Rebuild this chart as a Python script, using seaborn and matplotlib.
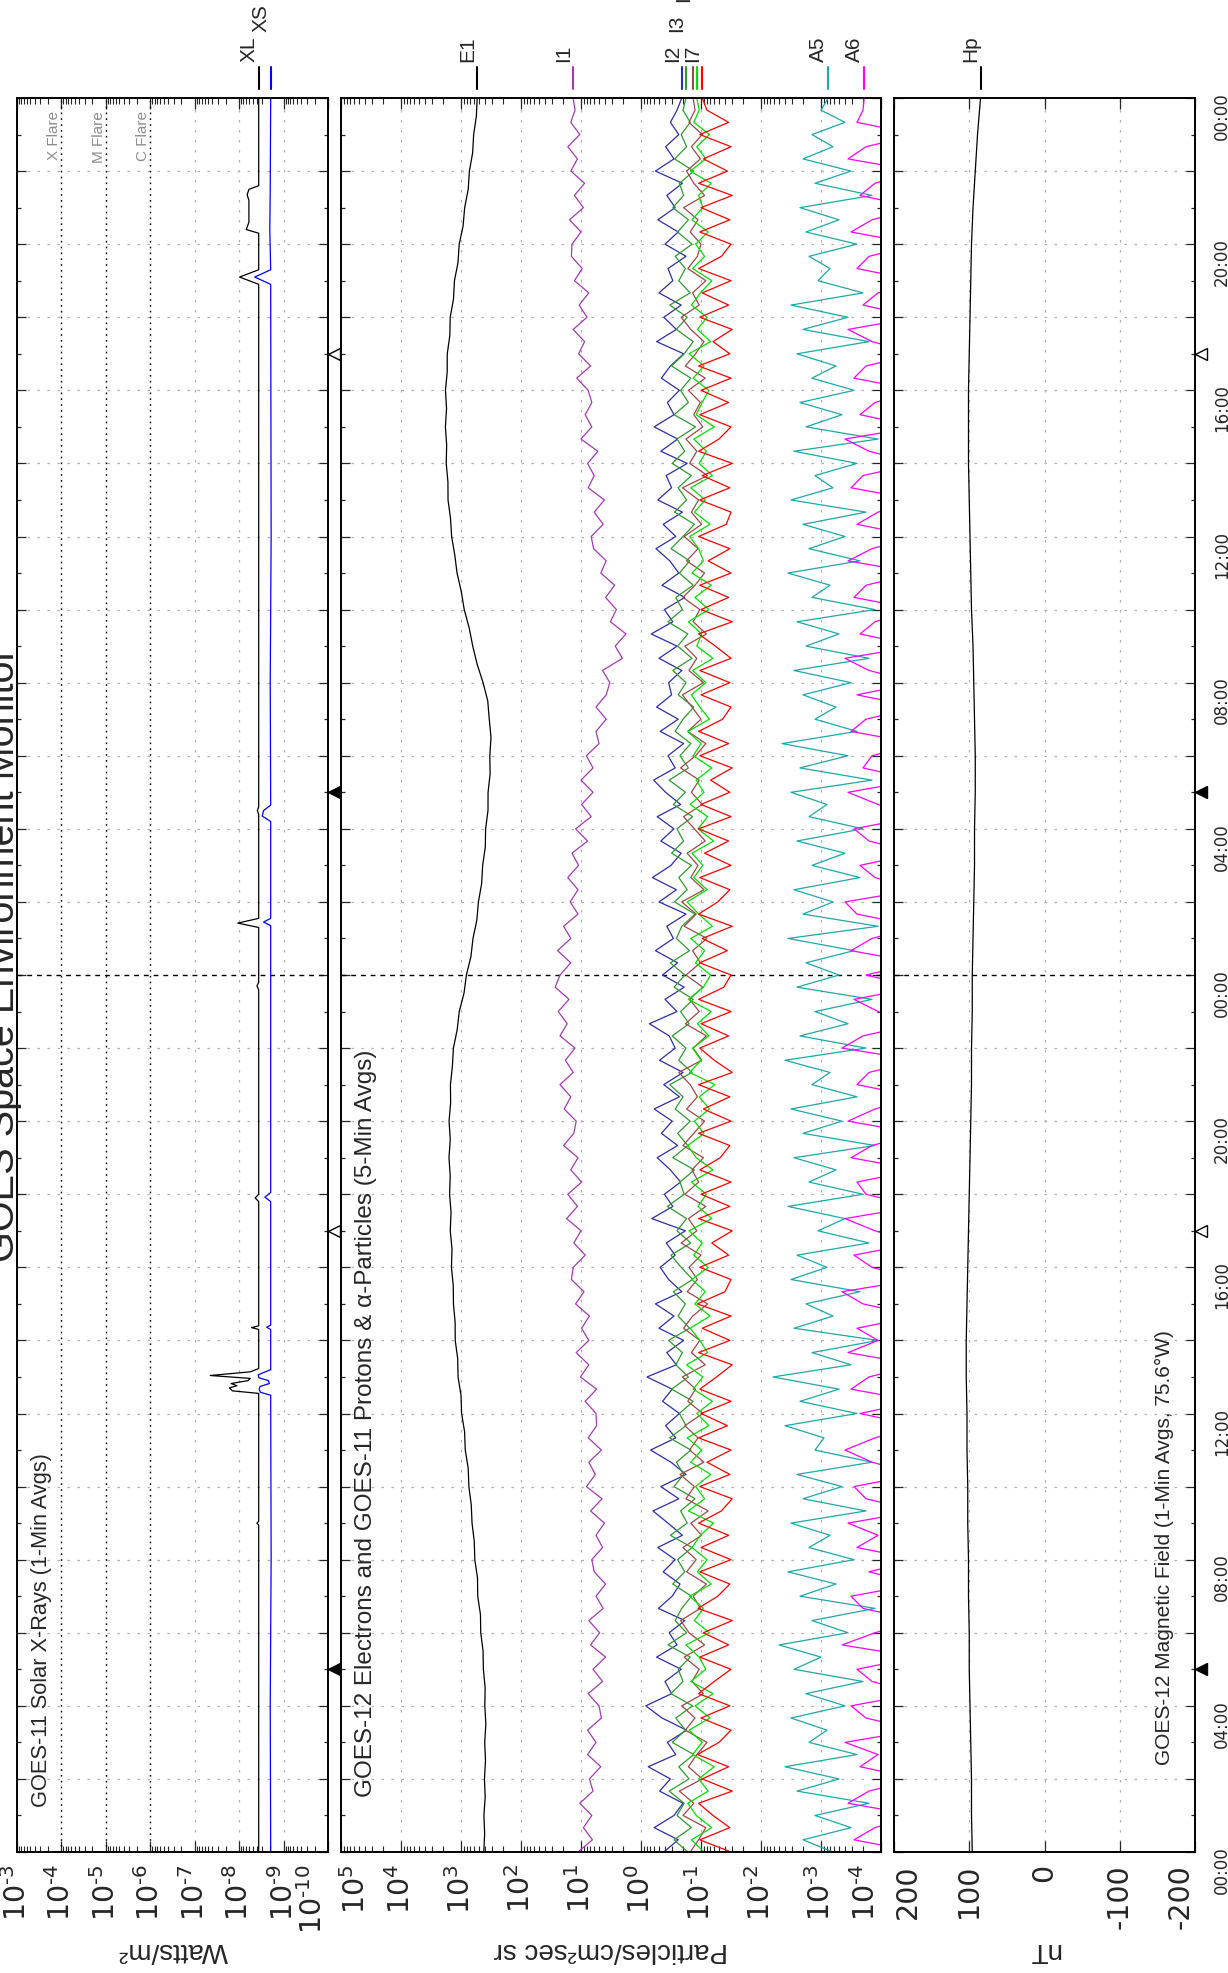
import numpy as np
import pandas as pd
import matplotlib
matplotlib.use("Agg")
import matplotlib.pyplot as plt
import matplotlib.transforms as mtransforms
from matplotlib.ticker import (LogLocator, NullFormatter, MultipleLocator,
                               FuncFormatter)
import seaborn as sns

# ---------------------------------------------------------------- data
# hours since start of the 2-day window (0 = first 00:00 UT)

# GOES-11 X-rays, log10(W/m^2), sampled at the turning points of the trace
xl_hours = [0, 8.95, 9.0, 9.05, 12.5, 12.55, 12.62, 12.7, 12.76, 12.82, 12.9,
            12.96, 13.04, 13.14, 13.23, 14.3, 14.35, 14.4, 17.8, 17.9, 18.0,
            23.6, 23.7, 23.8, 25.3, 25.42, 25.55, 28.4, 28.5, 28.6, 42.9,
            43.1, 43.3, 44.3, 44.4, 44.6, 45.2, 45.35, 45.5, 45.6, 48]
xl_log = [-8.44, -8.44, -8.40, -8.44, -8.44, -8.44, -7.85, -7.78, -7.95,
          -7.82, -8.20, -8.25, -7.35, -8.25, -8.44, -8.44, -8.28, -8.44,
          -8.44, -8.36, -8.44, -8.44, -8.40, -8.44, -8.44, -7.97, -8.44,
          -8.44, -8.41, -8.44, -8.44, -8.01, -8.44, -8.44, -8.16, -8.22,
          -8.22, -8.18, -8.22, -8.44, -8.44]
xs_hours = [0, 4, 8, 12.5, 12.58, 12.66, 12.74, 12.82, 12.9, 12.98, 13.06,
            13.2, 14.3, 14.36, 14.42, 17.8, 17.92, 18.05, 25.35, 25.45, 25.55,
            28.2, 28.35, 28.5, 28.65, 32, 36, 42.9, 43.1, 43.3, 44.4, 45.5, 48]
xs_log = [-8.71, -8.70, -8.72, -8.71, -8.48, -8.45, -8.47, -8.68, -8.66,
          -8.44, -8.43, -8.71, -8.71, -8.62, -8.71, -8.71, -8.58, -8.71,
          -8.71, -8.55, -8.71, -8.71, -8.52, -8.55, -8.71, -8.70, -8.72,
          -8.71, -8.35, -8.71, -8.69, -8.70, -8.71]

# GOES-12 electrons E1, log10 flux, every 30 min
e1_log = [2.620, 2.606, 2.618, 2.597, 2.609, 2.592, 2.605, 2.586,
          2.603, 2.598, 2.627, 2.632, 2.671, 2.676, 2.721, 2.725,
          2.770, 2.779, 2.816, 2.829, 2.869, 2.880, 2.929, 2.940,
          2.990, 3.000, 3.049, 3.055, 3.096, 3.098, 3.126, 3.129,
          3.159, 3.150, 3.179, 3.166, 3.190, 3.180, 3.200, 3.179,
          3.199, 3.173, 3.176, 3.144, 3.126, 3.064, 3.029, 2.950,
          2.910, 2.835, 2.800, 2.736, 2.710, 2.656, 2.639, 2.595,
          2.590, 2.550, 2.549, 2.515, 2.520, 2.500, 2.529, 2.554,
          2.632, 2.730, 2.804, 2.864, 2.946, 2.996, 3.066, 3.104,
          3.156, 3.175, 3.216, 3.218, 3.246, 3.239, 3.260, 3.241,
          3.259, 3.230, 3.229, 3.186, 3.180, 3.125, 3.109, 3.050,
          3.030, 2.965, 2.939, 2.880, 2.860, 2.806, 2.789, 2.744,
          2.730]

# GOES-11 protons and alphas, log10 flux, every 20 min
i1_log = [1.05, .81, .96, .82, 1.02, .80, .86, .67, .89, .75, .89, .66,
          .70, .88, .64, .80, .59, .84, .69, .87, .63, .75, .59, .78,
          .82, .64, .75, .61, .84, .65, .91, .76, .87, .66, .88, .74,
          .75, .93, .74, 1.01, .87, 1.08, .87, .99, .86, 1.09, .95, 1.16,
          1.13, .93, 1.12, 1.00, 1.24, 1.06, 1.22, .99, 1.17, 1.05, 1.29, 1.12,
          1.08, 1.28, 1.17, 1.35, 1.13, 1.26, 1.10, 1.35, 1.23, 1.38, 1.20, 1.43,
          1.35, 1.17, 1.39, 1.17, 1.29, 1.05, 1.18, 1.05, 1.22, 1.04, 1.15, .89,
          1.09, .83, .99, .80, 1.00, .80, .91, .70, .75, .58, .75, .58,
          .52, .64, .31, .43, .25, .51, .41, .59, .44, .67, .58, .79,
          .83, .63, .78, .61, .88, .78, .89, .72, 1.00, .82, .93, .82,
          .88, 1.07, .84, 1.04, .94, 1.13, .90, 1.03, .87, 1.11, .98, 1.16,
          1.15, 1.00, 1.19, .96, 1.11, .94, 1.17, 1.06, 1.22, 1.02, 1.17, 1.10,
          1.13]
i2_log = [-.38, -.62, -.22, -.55, -.70, -.31, -.49, -.12, -.58, -.44, -.76, -.35,
          -.08, -.51, -.40, -.67, -.26, -.60, -.47, -.73, -.29, -.52, -.65, -.37,
          -.57, -.28, -.69, -.45, -.20, -.63, -.33, -.75, -.50, -.16, -.58, -.41,
          -.64, -.36, -.52, -.10, -.59, -.43, -.71, -.30, -.55, -.24, -.68, -.46,
          -.32, -.57, -.42, -.74, -.18, -.53, -.39, -.66, -.49, -.27, -.61, -.34,
          -.52, -.22, -.64, -.38, -.70, -.31, -.57, -.47, -.14, -.60, -.40, -.72,
          -.36, -.61, -.24, -.54, -.43, -.75, -.30, -.59, -.19, -.50, -.67, -.33,
          -.55, -.27, -.66, -.41, -.21, -.57, -.45, -.71, -.32, -.62, -.26, -.51,
          -.46, -.68, -.30, -.60, -.17, -.53, -.39, -.73, -.35, -.63, -.48, -.25,
          -.58, -.37, -.69, -.28, -.51, -.42, -.77, -.33, -.61, -.22, -.55, -.44,
          -.64, -.34, -.49, -.71, -.26, -.59, -.38, -.67, -.30, -.53, -.45, -.75,
          -.40, -.62, -.28, -.57, -.43, -.69, -.24, -.55, -.41, -.63, -.49, -.60,
          -.68]
i3_log = [-.78, -.55, -.84, -.60, -.72, -.47, -.80, -.63, -.88, -.52, -.74, -.58,
          -.86, -.50, -.70, -.62, -.82, -.45, -.76, -.57, -.68, -.84, -.53, -.73,
          -.61, -.85, -.49, -.77, -.66, -.90, -.55, -.71, -.59, -.83, -.48, -.75,
          -.64, -.87, -.51, -.79, -.58, -.69, -.46, -.81, -.62, -.74, -.54, -.86,
          -.67, -.50, -.83, -.60, -.76, -.44, -.72, -.65, -.89, -.53, -.78, -.61,
          -.82, -.57, -.70, -.48, -.85, -.63, -.75, -.52, -.80, -.66, -.87, -.55,
          -.73, -.49, -.81, -.59, -.68, -.90, -.56, -.77, -.63, -.84, -.51, -.71,
          -.60, -.86, -.54, -.74, -.47, -.79, -.65, -.83, -.57, -.70, -.88, -.62,
          -.75, -.53, -.85, -.61, -.78, -.45, -.69, -.58, -.87, -.64, -.81, -.50,
          -.70, -.89, -.56, -.76, -.62, -.84, -.52, -.73, -.60, -.91, -.55, -.79,
          -.66, -.83, -.51, -.72, -.87, -.59, -.77, -.48, -.82, -.63, -.74, -.57,
          -.85, -.61, -.79, -.53, -.71, -.64, -.88, -.56, -.76, -.67, -.82, -.70,
          -.75]
i4_log = [-.82, -.96, -1.08, -.70, -.88, -.64, -1.02, -.79, -.93, -1.10, -.74, -.90,
          -.68, -1.04, -.85, -.97, -.72, -1.06, -.80, -.66, -.99, -.87, -1.09, -.76,
          -.92, -.70, -1.01, -.83, -1.12, -.75, -.89, -.65, -1.05, -.81, -.95, -.73,
          -1.03, -.78, -.91, -.69, -1.07, -.84, -.98, -.71, -.86, -1.11, -.77, -.94,
          -.80, -1.00, -.67, -.93, -.79, -1.08, -.73, -.96, -.85, -1.04, -.70, -.88,
          -1.06, -.76, -.94, -.82, -.63, -1.01, -.87, -1.09, -.74, -.97, -.81, -1.03,
          -.75, -.99, -.86, -1.10, -.72, -.92, -.68, -1.05, -.83, -.95, -.77, -1.07,
          -.89, -.71, -1.02, -.84, -.97, -.66, -.91, -1.08, -.78, -1.00, -.85, -.69,
          -1.04, -.80, -.93, -.73, -1.09, -.87, -.98, -.70, -.90, -1.06, -.76, -.95,
          -.72, -1.01, -.84, -.96, -.69, -1.11, -.81, -.93, -.75, -1.03, -.88, -.99,
          -.79, -1.07, -.74, -.91, -1.05, -.83, -.67, -.97, -.86, -1.08, -.78, -.94,
          -1.00, -.82, -.95, -.71, -1.06, -.88, -.76, -.99, -.84, -1.02, -.80, -.90,
          -.87]
i5_log = [-1.05, -.84, -1.18, -.92, -.78, -1.12, -.96, -1.22, -.86, -1.02, -.80, -1.15,
          -.90, -1.20, -.83, -1.08, -.97, -.75, -1.14, -.89, -1.04, -.81, -1.17, -.94,
          -1.10, -.85, -.99, -1.21, -.79, -1.06, -.91, -1.16, -.83, -1.01, -.77, -1.13,
          -.93, -1.19, -.87, -1.03, -.76, -1.11, -.98, -.82, -1.15, -.90, -1.07, -.85,
          -1.12, -.88, -1.02, -.80, -1.18, -.95, -1.09, -.84, -1.20, -.92, -.78, -1.05,
          -.89, -1.14, -.97, -1.23, -.81, -1.00, -.86, -1.13, -.94, -1.17, -.79, -1.04,
          -1.16, -.91, -1.06, -.83, -1.19, -.96, -.77, -1.10, -.88, -1.03, -.85, -1.21,
          -.95, -1.11, -.82, -1.05, -.92, -1.18, -.87, -1.00, -.78, -1.14, -.98, -.84,
          -1.08, -.86, -1.20, -.93, -1.01, -.79, -1.13, -.90, -1.17, -.85, -1.04, -.96,
          -.81, -1.15, -.89, -1.07, -.83, -1.19, -.97, -1.09, -.88, -1.22, -.92, -1.02,
          -1.13, -.87, -1.05, -.80, -1.16, -.94, -1.10, -.84, -.99, -1.18, -.86, -1.06,
          -.91, -1.12, -.85, -1.03, -.96, -1.17, -.82, -1.08, -.93, -1.14, -.88, -.97,
          -.93]
i7_log = [-1.50, -.98, -1.48, -1.20, -.96, -1.52, -1.02, -1.46, -.94, -1.30, -1.50, -1.00,
          -1.48, -.96, -1.22, -1.50, -.98, -1.46, -1.04, -1.52, -.95, -1.28, -1.48, -.98,
          -1.50, -1.00, -1.46, -.96, -1.34, -1.52, -.98, -1.48, -1.10, -1.50, -.96, -1.44,
          -1.00, -1.50, -.98, -1.26, -1.52, -.96, -1.48, -1.02, -1.50, -.94, -1.40, -1.50,
          -.98, -1.46, -1.18, -1.52, -.96, -1.48, -1.00, -1.50, -.98, -1.32, -1.48, -.96,
          -1.50, -1.04, -1.48, -.96, -1.52, -1.22, -.98, -1.46, -1.00, -1.50, -.96, -1.38,
          -1.50, -.98, -1.44, -1.02, -1.52, -.96, -1.28, -1.48, -.98, -1.50, -1.06, -1.46,
          -.96, -1.50, -1.00, -1.48, -1.16, -1.52, -.98, -1.46, -.96, -1.36, -1.50, -1.00,
          -1.48, -.98, -1.50, -1.24, -.96, -1.52, -1.00, -1.46, -.98, -1.50, -1.12, -1.48,
          -.96, -1.42, -1.50, -.98, -1.48, -1.02, -1.52, -.96, -1.30, -1.50, -.98, -1.46,
          -1.00, -1.50, -.96, -1.48, -1.20, -1.52, -.98, -1.46, -1.02, -1.50, -.96, -1.34,
          -1.50, -.98, -1.48, -1.00, -1.52, -.96, -1.44, -1.04, -1.50, -.98, -1.46, -1.10,
          -1.02]
a5_log = [-3.20, -2.70, -3.50, -2.90, -3.80, -2.60, -3.30, -2.40, -3.60, -2.80, -3.10, -2.50,
          -3.40, -2.75, -3.70, -2.55, -3.00, -2.30, -3.45, -2.85, -3.90, -2.65, -3.25, -2.45,
          -3.55, -2.80, -3.15, -2.50, -3.75, -2.70, -3.35, -2.60, -3.85, -2.90, -3.05, -2.40,
          -3.60, -2.65, -3.30, -2.20, -3.50, -2.85, -3.95, -2.55, -3.20, -2.75, -3.65, -2.50,
          -3.10, -2.60, -3.80, -2.95, -3.40, -2.45, -3.70, -2.80, -3.25, -2.55, -3.90, -2.70,
          -3.35, -2.50, -3.60, -2.85, -3.15, -2.40, -3.75, -2.65, -3.45, -2.90, -3.85, -2.60,
          -3.30, -2.75, -3.55, -2.45, -3.95, -2.70, -3.20, -2.55, -3.65, -2.85, -3.40, -2.60,
          -3.70, -2.80, -3.10, -2.50, -3.85, -2.65, -3.45, -2.35, -3.60, -2.90, -3.25, -2.70,
          -3.50, -2.55, -3.80, -2.75, -3.30, -2.60, -3.90, -2.85, -3.15, -2.45, -3.65, -2.80,
          -3.40, -2.70, -3.75, -2.50, -3.20, -2.90, -3.60, -2.55, -3.95, -2.75, -3.35, -2.65,
          -3.55, -2.85, -3.25, -2.60, -3.80, -2.70, -3.45, -2.50, -3.70, -2.95, -3.15, -2.80,
          -3.60, -2.75, -3.30, -2.65, -3.85, -2.90, -3.50, -2.70, -3.20, -2.85, -3.40, -3.00,
          -3.12]
a6_log = [-4.6, -3.55, -3.9, -4.6, -3.45, -3.8, -4.6, -3.65, -3.95, -3.4, -4.6, -3.75,
          -3.5, -4.6, -3.85, -3.6, -4.6, -3.35, -3.9, -4.6, -3.7, -3.5, -4.6, -3.8,
          -4.6, -3.6, -3.95, -3.45, -4.6, -3.75, -3.55, -4.6, -3.85, -3.4, -3.9, -4.6,
          -3.65, -4.6, -3.5, -3.8, -4.6, -3.45, -3.95, -3.6, -4.6, -3.7, -3.35, -4.6,
          -3.85, -3.55, -4.6, -3.9, -3.4, -4.6, -3.75, -3.6, -4.6, -3.5, -3.85, -4.6,
          -3.45, -3.9, -4.6, -3.6, -3.8, -4.6, -3.35, -3.7, -4.6, -3.95, -3.55, -4.6,
          -3.75, -4.6, -3.5, -3.85, -4.6, -3.6, -3.4, -4.6, -3.9, -3.65, -4.6, -3.8,
          -3.55, -4.6, -3.95, -3.45, -4.6, -3.7, -3.85, -4.6, -3.5, -3.75, -4.6, -3.6,
          -4.6, -3.8, -3.4, -4.6, -3.65, -3.9, -4.6, -3.55, -3.75, -4.6, -3.45, -3.85,
          -4.6, -3.6, -3.95, -4.6, -3.5, -3.7, -4.6, -3.8, -3.4, -4.6, -3.65, -3.9,
          -4.6, -3.55, -3.75, -4.6, -3.85, -3.45, -4.6, -3.7, -3.95, -4.6, -3.6, -3.8,
          -4.6, -3.5, -3.85, -4.6, -3.65, -3.9, -4.6, -3.45, -3.75, -4.6, -3.6, -3.7,
          -3.72]

# GOES-12 Hp magnetic field, nT, hourly
hp_nt = [96, 97, 97, 98, 99, 100, 100, 101, 101, 102, 102, 103, 103, 104, 104,
         103, 102, 101, 100, 99, 98, 97, 97, 96, 96, 95, 94, 93, 93, 92, 92, 93,
         94, 95, 97, 98, 99, 100, 101, 101, 101, 100, 99, 98, 97, 95, 92, 89, 85]

# local noon / midnight markers
mark_hours = [5, 17, 29, 41]
mark_filled = [True, False, True, False]

xray_ticks = [-3, -4, -5, -6, -7, -8, -9, -10]
part_ticks = [5, 4, 3, 2, 1, 0, -1, -2, -3, -4]
mag_ticks = [200, 100, 0, -100, -200]
flares = [(-4, 'X Flare'), (-5, 'M Flare'), (-6, 'C Flare')]

colors = {'XL': '#000000', 'XS': '#0000ff', 'E1': '#000000', 'I1': '#a03cb0',
          'I2': '#2e2ea6', 'I3': '#2f9a2f', 'I4': '#a04848', 'I5': '#00e000',
          'I7': '#ff0000', 'A5': '#1ea8a8', 'A6': '#ff00ff', 'Hp': '#000000'}

# ---------------------------------------------------------------- frames
t30 = np.arange(len(e1_log)) * 0.5
t20 = np.arange(len(i1_log)) / 3.0
t60 = np.arange(len(hp_nt)) * 1.0


def frame(name, hours, logs):
    return pd.DataFrame({'hour': hours, 'flux': 10.0 ** np.asarray(logs),
                         'chan': name})


xray = pd.concat([frame('XL', xl_hours, xl_log), frame('XS', xs_hours, xs_log)])
part = pd.concat([frame('E1', t30, e1_log), frame('I1', t20, i1_log),
                  frame('I2', t20, i2_log), frame('I3', t20, i3_log),
                  frame('I4', t20, i4_log), frame('I5', t20, i5_log),
                  frame('I7', t20, i7_log), frame('A5', t20, a5_log),
                  frame('A6', t20, a6_log)])
mag = pd.DataFrame({'hour': t60, 'hp': hp_nt})

# ---------------------------------------------------------------- style
sns.set_style("white")
plt.rcParams['font.family'] = ['Liberation Sans', 'DejaVu Sans']
plt.rcParams['axes.unicode_minus'] = False
plt.rcParams['axes.linewidth'] = 1.4
plt.rcParams['axes.edgecolor'] = 'black'

W, H = 1228, 1974
AX_H = 1754
fig = plt.figure(figsize=(W / 100, H / 100), dpi=100)
fig.patch.set_facecolor('white')
bottom, height = 121 / H, AX_H / H
ax_x = fig.add_axes([17 / W, bottom, 311 / W, height])
ax_p = fig.add_axes([341 / W, bottom, 540 / W, height])
ax_m = fig.add_axes([894 / W, bottom, 301 / W, height])

GRID = dict(color='#b0b0b0', lw=0.9, ls=(0, (2, 6)), zorder=0.5)


def power_label(v, pos):
    # 10 with a superscript exponent, hyphen instead of a long minus
    k = int(round(np.log10(v)))
    return r'$\mathdefault{10^{%s}}$' % str(k).replace('-', '\u2010')


def time_axis(ax, labels=False):
    ax.set_ylim(0, 48)
    ax.yaxis.set_major_locator(MultipleLocator(2))
    ax.yaxis.set_minor_locator(MultipleLocator(1))
    ax.yaxis.set_major_formatter(FuncFormatter(
        lambda v, p: '%02d:00' % (int(round(v)) % 24) if int(round(v)) % 4 == 0 else ''))
    ax.tick_params(axis='y', which='major', direction='in', length=6.5, width=0.9,
                   left=True, right=True, labelleft=False, labelright=labels,
                   labelsize=12, labelrotation=90, pad=13,
                   labelfontfamily='Liberation Sans Narrow')
    ax.tick_params(axis='y', which='minor', direction='in', length=3.2,
                   width=0.9, left=True, right=True)
    for h in range(2, 48, 2):
        if h == 24:
            ax.axhline(h, color='black', lw=1.0, ls=(0, (3.5, 3.5)), zorder=0.6)
        else:
            ax.axhline(h, **GRID)
    ax.set_ylabel('')


def value_axis(ax, ticks, lim, label, log=True, first_ha='left'):
    ax.set_xlim(*lim)
    ax.set_xticks(ticks)
    if log:
        ax.xaxis.set_major_formatter(FuncFormatter(power_label))
        ax.xaxis.set_minor_locator(LogLocator(base=10, subs=np.arange(2, 10),
                                              numticks=100))
        ax.xaxis.set_minor_formatter(NullFormatter())
    ax.tick_params(axis='x', which='major', direction='in', length=8, width=0.9,
                   bottom=True, top=True, labelsize=20.5, labelrotation=90, pad=8,
                   labelfontfamily='DejaVu Sans')
    ax.tick_params(axis='x', which='minor', direction='in', length=4.5,
                   width=0.8, bottom=True, top=True)
    tl = ax.get_xticklabels()
    tl[0].set_ha(first_ha)
    tl[-1].set_ha('right')
    ax.set_xlabel(label, fontsize=20, rotation=180)
    ax.xaxis.set_label_coords(0.5, -(1950 - 1853) / AX_H)
    ax.xaxis.label.set_va('center')


def sun_marks(ax):
    off = mtransforms.ScaledTranslation(5.5 / 100, 0, fig.dpi_scale_trans)
    tr = ax.get_yaxis_transform() + off
    for h, filled in zip(mark_hours, mark_filled):
        ax.plot([1.0], [h], marker='<', ms=8, mec='black', mew=1.0,
                mfc='black' if filled else 'white', transform=tr,
                clip_on=False, zorder=5)


def tag(ax, value, text, level=0):
    tr = ax.get_xaxis_transform()
    ax.plot([value, value], [1 + 9 / AX_H, 1 + 31 / AX_H], transform=tr,
            color=colors[text], lw=1.5, clip_on=False)
    ax.text(value, 1 + (37 + 30 * level) / AX_H, text, transform=tr,
            rotation=90, ha='right', va='bottom', fontsize=15, clip_on=False)


LINE = dict(orient='y', estimator=None, sort=True, legend=False, lw=0.9)

# ---- X-rays
ax_x.set_xscale('log')
sns.lineplot(data=xray, x='flux', y='hour', hue='chan', hue_order=['XL', 'XS'],
             palette=colors, ax=ax_x, **LINE)
for k in [-7, -8, -9]:
    ax_x.axvline(10.0 ** k, **GRID)
for k, name in flares:
    ax_x.axvline(10.0 ** k, color='black', lw=1.0, ls=(0, (1.2, 3)), zorder=0.6)
    ax_x.text(10.0 ** k, 1 - 12 / AX_H, name, transform=ax_x.get_xaxis_transform(),
              rotation=90, ha='right', va='top', fontsize=11, color='#8c8c8c')
value_axis(ax_x, [10.0 ** k for k in xray_ticks], (1e-3, 1e-10), 'Watts/m²',
           first_ha='center')
time_axis(ax_x)
ax_x.text(0.08, 0.026, 'GOES-11 Solar X-Rays (1-Min Avgs)', transform=ax_x.transAxes,
          rotation=90, ha='center', va='bottom', fontsize=15.7)
sun_marks(ax_x)
tag(ax_x, 10.0 ** xl_log[-1], 'XL', 0)
tag(ax_x, 10.0 ** xs_log[-1], 'XS', 1)

# ---- particles
ax_p.set_xscale('log')
order = ['E1', 'I1', 'I2', 'I3', 'I4', 'I5', 'I7', 'A5', 'A6']
sns.lineplot(data=part, x='flux', y='hour', hue='chan', hue_order=order,
             palette=colors, ax=ax_p, **LINE)
for k in part_ticks[1:-1]:
    ax_p.axvline(10.0 ** k, **GRID)
value_axis(ax_p, [10.0 ** k for k in part_ticks], (1e5, 1e-4),
           'Particles/cm²sec sr')
time_axis(ax_p)
ax_p.text(0.046, 0.032,
          'GOES-12 Electrons and GOES-11 Protons & α-Particles (5-Min Avgs)',
          transform=ax_p.transAxes, rotation=90, ha='center', va='bottom',
          fontsize=17.5)
last = {'E1': e1_log[-1], 'I1': i1_log[-1], 'I2': i2_log[-1], 'I3': i3_log[-1],
        'I4': i4_log[-1], 'I5': i5_log[-1], 'I7': i7_log[-1], 'A5': a5_log[-1],
        'A6': a6_log[-1]}
levels = {'I3': 1, 'I4': 2, 'I5': 3}
for name in order:
    tag(ax_p, 10.0 ** last[name], name, levels.get(name, 0))

# ---- magnetic field
sns.lineplot(data=mag, x='hp', y='hour', color=colors['Hp'], ax=ax_m, **LINE)
for v in [100, 0, -100]:
    ax_m.axvline(v, **GRID)
value_axis(ax_m, mag_ticks, (200, -200), 'nT', log=False)
time_axis(ax_m, labels=True)
ax_m.text(0.897, 0.05, 'GOES-12 Magnetic Field (1-Min Avgs, 75.6°W)',
          transform=ax_m.transAxes, rotation=90, ha='center', va='bottom',
          fontsize=15)
sun_marks(ax_m)
tag(ax_m, hp_nt[-1], 'Hp', 0)

for ax in (ax_x, ax_p, ax_m):
    for s in ax.spines.values():
        s.set_linewidth(1.4)
        s.set_zorder(3)

fig.text(22 / W, 1 - 955 / H, 'GOES Space Environment Monitor', rotation=90,
         ha='right', va='center', fontsize=28.5)

fig.savefig('out.png', dpi=100)
